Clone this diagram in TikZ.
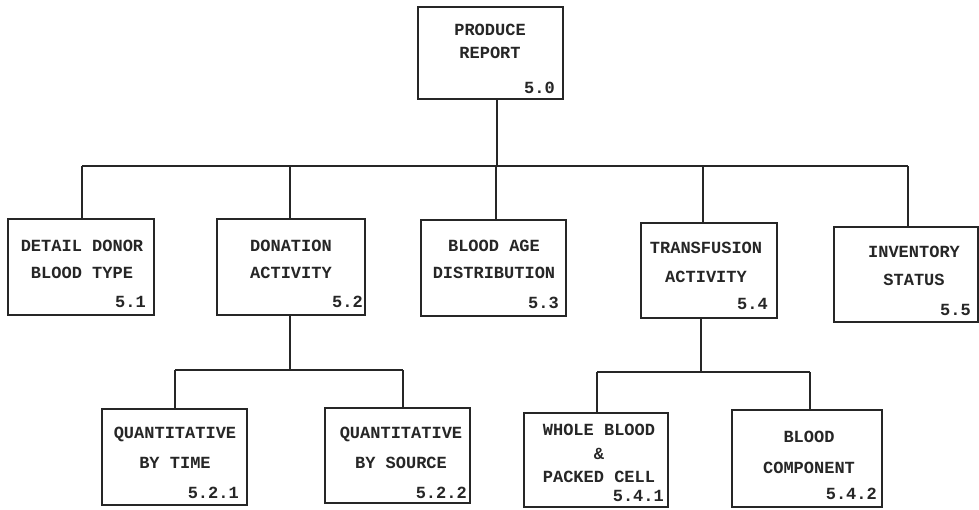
\documentclass[tikz,border=0pt]{standalone}
\usepackage{fontspec}
\newfontfamily\tw{Liberation Mono}
\begin{document}
\begin{tikzpicture}[x=1pt,y=-1pt,
  box/.style={draw=black!85,line width=1.7pt,rectangle,inner sep=0pt},
  txt/.style={inner sep=0pt,align=center,text=black!85,font=\tw\bfseries\fontsize{17}{#1}\selectfont},
  txt/.default=27,
  num/.style={inner sep=0pt,anchor=east,text=black!85,font=\tw\bfseries\fontsize{17}{20}\selectfont},
  link/.style={draw=black!85,line width=1.5pt}]
\useasboundingbox[fill=white] (0,0) rectangle (979,509);
% boxes
\node[box,minimum width=145pt,minimum height=92pt] (b50) at (490.5,53) {};
\node[box,minimum width=146pt,minimum height=96pt] (b51) at (81,267) {};
\node[box,minimum width=148pt,minimum height=96pt] (b52) at (291,267) {};
\node[box,minimum width=145pt,minimum height=96pt] (b53) at (493.5,268) {};
\node[box,minimum width=136pt,minimum height=95pt] (b54) at (709,270.5) {};
\node[box,minimum width=144pt,minimum height=95pt] (b55) at (906,274.5) {};
\node[box,minimum width=145pt,minimum height=96pt] (b521) at (174.5,457) {};
\node[box,minimum width=145pt,minimum height=95pt] (b522) at (397.5,455.5) {};
\node[box,minimum width=144pt,minimum height=94pt] (b541) at (596,460) {};
\node[box,minimum width=150pt,minimum height=97pt] (b542) at (807,458.5) {};
% texts
\node[txt=23] (t50) at (490,41.5) {PRODUCE\\REPORT};
\node[txt=27] (t51) at (82,259.5) {DETAIL DONOR\\BLOOD TYPE};
\node[txt=27] (t52) at (291,259.5) {DONATION\\ACTIVITY};
\node[txt=27] (t53) at (494,259.5) {BLOOD AGE\\DISTRIBUTION};
\node[txt=29] (t54) at (706,262.5) {TRANSFUSION\\ACTIVITY};
\node[txt=28] (t55) at (914,266) {INVENTORY\\STATUS};
\node[txt=30] (t521) at (175,448) {QUANTITATIVE\\BY TIME};
\node[txt=30] (t522) at (401,448) {QUANTITATIVE\\BY SOURCE};
\node[txt=23.5] (t541) at (599,453.5) {WHOLE BLOOD\\\&\\PACKED CELL};
\node[txt=31] (t542) at (809,452.5) {BLOOD\\COMPONENT};
% numbers
\node[num] (n50) at (555,88) {5.0};
\node[num] (n51) at (146,302) {5.1};
\node[num] (n52) at (363,302) {5.2};
\node[num] (n53) at (559,303) {5.3};
\node[num] (n54) at (768,304) {5.4};
\node[num] (n55) at (971,310) {5.5};
\node[num] (n521) at (239,493) {5.2.1};
\node[num] (n522) at (467,493) {5.2.2};
\node[num] (n541) at (664,496) {5.4.1};
\node[num] (n542) at (877,494) {5.4.2};
% junction coordinates
\coordinate (j0) at (497,166);
\coordinate (j1) at (82,166);
\coordinate (j2) at (290,166);
\coordinate (j3) at (496,166);
\coordinate (j4) at (703,166);
\coordinate (j5) at (908,166);
\coordinate (k0) at (290,370);
\coordinate (k1) at (175,370);
\coordinate (k2) at (403,370);
\coordinate (m0) at (701,372);
\coordinate (m1) at (597,372);
\coordinate (m2) at (810,372);
% connectors
\draw[link] (j0 |- b50.south) -- (j0);
\draw[link] (j1) -- (j5);
\draw[link] (j1) -- (j1 |- b51.north);
\draw[link] (j2) -- (j2 |- b52.north);
\draw[link] (j3) -- (j3 |- b53.north);
\draw[link] (j4) -- (j4 |- b54.north);
\draw[link] (j5) -- (j5 |- b55.north);
\draw[link] (k0 |- b52.south) -- (k0);
\draw[link] (k1) -- (k2);
\draw[link] (k1) -- (k1 |- b521.north);
\draw[link] (k2) -- (k2 |- b522.north);
\draw[link] (m0 |- b54.south) -- (m0);
\draw[link] (m1) -- (m2);
\draw[link] (m1) -- (m1 |- b541.north);
\draw[link] (m2) -- (m2 |- b542.north);
\end{tikzpicture}
\end{document}
